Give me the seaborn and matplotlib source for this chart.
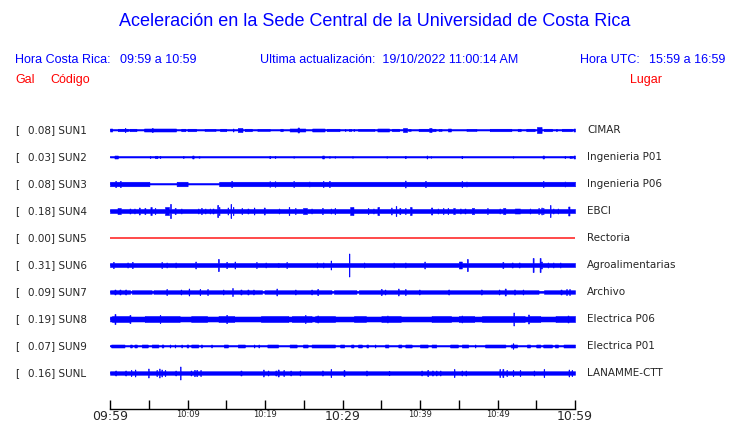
import matplotlib
matplotlib.use("Agg")

import matplotlib.pyplot as plt
import matplotlib.transforms as mtransforms
import seaborn as sns
import numpy as np
import pandas as pd

sns.set_style("white")

BLUE = "#0000ff"
RED = "#ff0000"

# station info
codes = ["SUN1", "SUN2", "SUN3", "SUN4", "SUN5", "SUN6", "SUN7", "SUN8", "SUN9", "SUNL"]
gal_values = [0.08, 0.03, 0.08, 0.18, 0.00, 0.31, 0.09, 0.19, 0.07, 0.16]
places = ["CIMAR", "Ingenieria P01", "Ingenieria P06", "EBCI", "Rectoria",
          "Agroalimentarias", "Archivo", "Electrica P06", "Electrica P01", "LANAMME-CTT"]

# background trace amplitude (peak to peak, screen px equivalent)
base_amp = [1, 1, 1, 4, 1, 4, 3.5, 5, 1, 3.5]

# bursts: (minute, amp) or (start_min, end_min, amp)
sun1_events = [(0.0, 0.3, 3), (1.0, 2.3, 2.5), (1.95, 4), (2.5, 3.4, 2.5), (4.4, 8.5, 3),
               (5.45, 4), (9.2, 9.7, 2.5), (10.0, 11.1, 2.5), (12.2, 13.6, 2), (14.2, 15.0, 2.5),
               (15.9, 3), (16.5, 17.1, 4), (17.4, 18.3, 2.5), (19.0, 20.6, 2), (22.0, 22.3, 2.5),
               (23.2, 25.2, 3), (24.2, 24.4, 5), (26.1, 27.7, 3), (28.0, 29.6, 2.5), (30.35, 2),
               (30.8, 31.1, 2), (31.45, 2), (32.0, 34.1, 2), (34.5, 36.0, 3), (36.4, 37.3, 2.5),
               (37.8, 38.3, 4), (38.5, 38.8, 2), (39.8, 42.0, 2.5), (41.2, 41.5, 4), (42.4, 42.8, 2),
               (43.6, 44.0, 3), (46.0, 47.3, 2), (49.0, 51.8, 2.5), (52.6, 53.0, 2.5),
               (53.7, 54.8, 2.5), (55.1, 55.7, 6), (56.0, 57.0, 2.5), (57.6, 2), (58.3, 59.6, 2.5),
               (59.8, 60.0, 3)]
sun2_events = [(0.56, 1.0, 3), (5.16, 2), (5.8, 6.1, 2.5), (6.45, 2), (9.46, 2), (10.6, 10.8, 3),
               (11.5, 1.5), (20.6, 2.5), (21.3, 2), (23.7, 1.5), (27.4, 27.6, 3), (28.3, 1.5),
               (29.0, 1.5), (31.3, 1.5), (35.7, 1.5), (38.1, 2.5), (40.9, 3), (41.4, 1.5),
               (45.4, 2.5), (52.0, 1.5), (55.8, 56.0, 3), (58.7, 2), (59.3, 59.6, 2), (59.8, 60.0, 3)]
sun3_events = [(0.0, 5.1, 4.5), (8.6, 10.0, 4.5), (14.1, 60.0, 4.5), (0.73, 6), (1.33, 6),
               (15.7, 6), (20.6, 5.5), (21.3, 5.5), (23.7, 6), (25.7, 5), (27.5, 6), (28.3, 6),
               (38.1, 7), (40.7, 6), (45.4, 6), (46.0, 5), (55.9, 6), (58.7, 5)]
sun4_events = [(0.95, 1.4, 6), (2.58, 5), (3.14, 5), (3.78, 7), (4.5, 6), (5.2, 5.4, 8), (5.8, 6),
               (7.1, 7.6, 8), (7.8, 14), (8.4, 6), (9.2, 5), (11.4, 5), (11.8, 6), (12.3, 5),
               (12.9, 5), (13.3, 5), (13.9, 12), (14.1, 8), (15.2, 7), (15.6, 14), (15.9, 8),
               (17.0, 6), (17.8, 5), (18.6, 7), (19.9, 7), (21.8, 5), (23.1, 8), (23.9, 6),
               (24.9, 25.4, 6), (26.0, 5), (27.4, 6), (28.5, 5), (29.0, 6), (31.0, 31.4, 8),
               (33.3, 6), (34.0, 5), (34.5, 34.7, 8), (36.3, 7), (36.9, 10), (37.4, 6), (38.1, 6),
               (38.7, 38.9, 8), (41.4, 41.6, 7), (42.3, 5), (43.0, 6), (43.6, 6), (44.3, 44.5, 6),
               (45.2, 5), (45.8, 5), (46.7, 47.0, 6), (48.7, 6), (50.3, 5), (50.7, 51.0, 6),
               (52.2, 52.9, 5), (54.2, 5), (55.3, 6), (55.7, 7), (55.9, 6), (56.8, 12), (57.2, 5),
               (57.8, 5), (59.1, 59.3, 9)]
sun5_events = []
sun6_events = [(0.43, 6), (2.28, 5), (2.88, 6), (6.67, 6), (7.31, 5), (8.47, 5), (11.05, 7),
               (13.98, 12), (15.05, 6), (16.1, 7), (18.9, 6), (20.1, 5), (21.7, 4.5), (22.8, 6),
               (26.7, 5), (27.5, 5), (28.5, 9), (30.85, 23), (32.8, 5), (36.6, 5), (38.1, 5),
               (40.6, 7), (45.0, 45.4, 7), (46.1, 12), (50.7, 6), (51.9, 5), (52.8, 5), (54.6, 14),
               (55.5, 14), (55.7, 7), (56.5, 5), (57.2, 5), (58.1, 5)]
sun7_events = [(0.65, 5), (1.29, 5), (2.02, 5), (7.31, 6), (9.16, 5), (10.2, 7), (11.6, 6),
               (12.6, 6), (14.6, 5), (15.8, 8), (16.9, 5), (17.8, 5), (18.5, 5), (21.5, 7),
               (23.9, 5), (26.0, 5), (26.8, 6), (35.0, 6), (35.5, 5), (37.2, 7), (38.1, 6),
               (39.9, 5), (43.7, 5), (47.9, 5), (50.2, 5), (51.0, 7), (52.2, 5), (53.3, 5),
               (58.2, 5), (58.9, 6), (59.3, 6)]
sun8_events = [(0.3, 2.5, 6), (4.5, 9.0, 6), (10.5, 12.5, 6), (14.0, 16.0, 6),
               (19.5, 23.0, 6), (23.5, 26.0, 6), (26.5, 29.0, 6), (31.5, 33.0, 6),
               (35.0, 37.5, 6), (41.5, 44.0, 6), (45.0, 47.0, 6), (48.0, 53.5, 6),
               (54.0, 55.5, 6), (57.5, 60.0, 6), (0.65, 10), (2.58, 8), (6.45, 8), (15.05, 8),
               (25.2, 8), (26.8, 7), (35.8, 7), (45.4, 7), (52.1, 13), (54.0, 9), (59.1, 7)]
sun9_events = [(0.13, 1.85, 3), (2.58, 2.8, 3), (3.14, 3.44, 3), (4.09, 4.86, 3), (5.38, 6.24, 3),
               (6.67, 6.88, 3), (7.74, 3), (8.39, 3), (9.25, 3), (9.89, 10.1, 3), (10.5, 11.4, 3),
               (11.8, 3), (13.1, 3), (14.7, 15.2, 3), (16.5, 17.4, 3), (18.6, 3), (19.2, 3),
               (20.3, 21.7, 3), (23.2, 24.1, 3), (24.9, 25.5, 3), (26.0, 29.0, 3), (29.7, 30.2, 3),
               (31.1, 31.4, 3), (32.0, 32.5, 3), (33.1, 33.3, 3), (34.2, 3), (35.5, 35.9, 3),
               (37.2, 37.6, 3), (38.1, 38.9, 3), (40.0, 41.0, 3), (41.5, 42.1, 3), (43.9, 44.9, 3),
               (45.4, 46.2, 3), (47.1, 3), (48.4, 51.0, 3), (51.7, 52.5, 3), (52.0, 5.5),
               (53.8, 54.2, 3), (55.0, 55.5, 3), (55.9, 57.0, 3), (57.4, 57.8, 3), (58.5, 60.0, 3)]
sunl_events = [(0.73, 5), (2.02, 5), (2.71, 6), (3.23, 7), (4.95, 9), (6.02, 6), (6.36, 9),
               (6.67, 7), (7.1, 6), (8.47, 5), (9.07, 13), (10.45, 5), (10.9, 6), (11.2, 6),
               (11.7, 6), (16.9, 5), (19.8, 7), (20.4, 5), (21.4, 5), (21.7, 7), (22.4, 6),
               (23.3, 5), (24.5, 5), (27.4, 5), (28.5, 8), (30.2, 6), (33.1, 5), (36.0, 4.5),
               (40.2, 5), (41.0, 6), (41.6, 5), (42.1, 5), (42.6, 5), (44.4, 8), (45.4, 5),
               (45.9, 5), (50.3, 8), (50.7, 8), (51.2, 6), (52.0, 6), (52.9, 6), (54.7, 5),
               (56.0, 8), (59.2, 7), (59.6, 6)]

# quieter stretches of SUN7 (thin trace)
sun7_quiet = [(2.6, 2.8), (5.4, 5.6), (19.6, 19.9), (28.6, 28.9), (31.8, 32.1), (55.3, 56.0)]

all_events = [sun1_events, sun2_events, sun3_events, sun4_events, sun5_events,
              sun6_events, sun7_events, sun8_events, sun9_events, sunl_events]
quiet = {6: sun7_quiet}

tick_minutes = list(range(0, 61, 5))
tick_labels = {0: "09:59", 10: "10:09", 20: "10:19", 30: "10:29", 40: "10:39", 50: "10:49", 60: "10:59"}
big_ticks = [0, 30, 60]

W, H = 740, 423
fig = plt.figure(figsize=(W / 100, H / 100), dpi=100)
ax = fig.add_axes([110 / W, 1 - 409 / H, 465 / W, 299 / H])

ROW_PX = 27.0
t = np.linspace(0, 60, 1400)

for i, code in enumerate(codes):
    env = np.full(t.size, float(base_amp[i]))
    for ev in all_events[i]:
        if len(ev) == 2:
            a, b, h = ev[0] - 0.05, ev[0] + 0.05, ev[1]
        else:
            a, b, h = ev
        m = (t >= a) & (t <= b)
        env[m] = np.maximum(env[m], h)
    for a, b in quiet.get(i, []):
        env[(t >= a) & (t <= b)] = 1.5
    half = env / 2 / ROW_PX
    color = RED if code == "SUN5" else BLUE
    df = pd.DataFrame({"t": t, "y": np.full(t.size, i)})
    sns.lineplot(data=df, x="t", y="y", color=color, lw=1.0, ax=ax, estimator=None)
    if code != "SUN5":
        ax.fill_between(t, i - half, i + half, color=color, lw=0.4, step="mid")

ax.set_xlim(0, 60)
ax.set_ylim(10 + 9 / 27, -20 / 27)
ax.set_xlabel("")
ax.set_ylabel("")
ax.set_yticks([])
for s in ["top", "left", "right"]:
    ax.spines[s].set_visible(False)
ax.spines["bottom"].set_color("black")
ax.spines["bottom"].set_linewidth(1)
ax.set_xticks(tick_minutes)
ax.set_xticklabels([tick_labels.get(m, "") for m in tick_minutes])
ax.tick_params(axis="x", direction="in", length=6.5, width=1, color="black", pad=0.5,
               bottom=True)
for m, lab in zip(tick_minutes, ax.get_xticklabels()):
    lab.set_fontfamily("DejaVu Sans")
    lab.set_fontsize(9 if m in big_ticks else 6)
    lab.set_verticalalignment("top")

trans = mtransforms.blended_transform_factory(fig.transFigure, ax.transData)
for i, code in enumerate(codes):
    ax.text(15 / W, i, "[", transform=trans, fontsize=7.5, family="DejaVu Sans",
            va="center", ha="left")
    ax.text(28 / W, i, f"{gal_values[i]:.2f}] {code}", transform=trans, fontsize=7.5,
            family="DejaVu Sans", va="center", ha="left")
    ax.text(587 / W, i, places[i], transform=trans, fontsize=7.5, family="DejaVu Sans",
            va="center", ha="left")

hdr = dict(family="Liberation Sans", va="center")
fig.text(375 / W, 1 - 22 / H, "Aceleración en la Sede Central de la Universidad de Costa Rica",
         color=BLUE, fontsize=13, ha="center", **hdr)
fig.text(15 / W, 1 - 60 / H, "Hora Costa Rica:", color=BLUE, fontsize=9, ha="left", **hdr)
fig.text(120 / W, 1 - 60 / H, "09:59 a 10:59", color=BLUE, fontsize=9, ha="left", **hdr)
fig.text(260 / W, 1 - 60 / H, "Ultima actualización:  19/10/2022 11:00:14 AM", color=BLUE,
         fontsize=9, ha="left", **hdr)
fig.text(580 / W, 1 - 60 / H, "Hora UTC:", color=BLUE, fontsize=9, ha="left", **hdr)
fig.text(725 / W, 1 - 60 / H, "15:59 a 16:59", color=BLUE, fontsize=9, ha="right", **hdr)
fig.text(15 / W, 1 - 80 / H, "Gal", color=RED, fontsize=9, ha="left", **hdr)
fig.text(50 / W, 1 - 80 / H, "Código", color=RED, fontsize=9, ha="left", **hdr)
fig.text(630 / W, 1 - 80 / H, "Lugar", color=RED, fontsize=9, ha="left", **hdr)

fig.savefig("out.png", dpi=100)
